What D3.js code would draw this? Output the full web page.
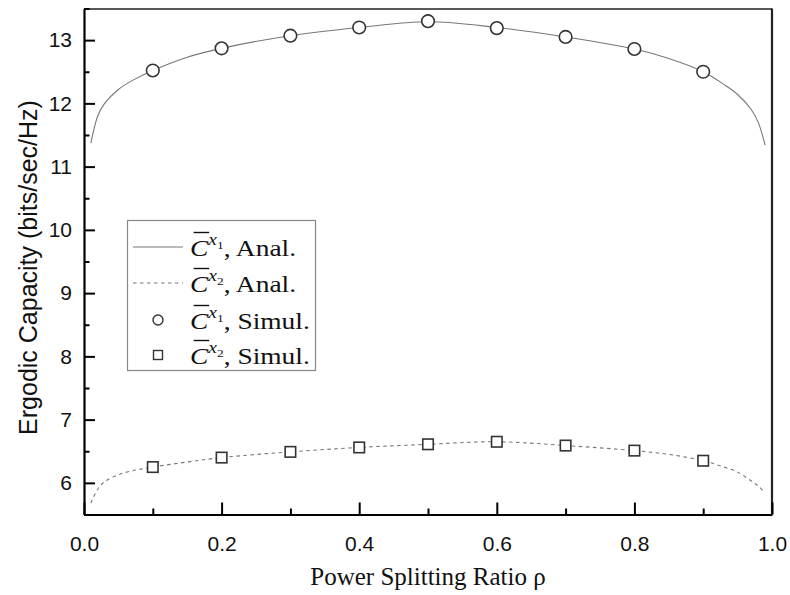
<!DOCTYPE html>
<html><head><meta charset="utf-8">
<script src="https://cdn.jsdelivr.net/npm/d3@7"></script>
<style>body{margin:0;background:#fff}svg{display:block}</style>
</head><body>
<svg id="c" width="790" height="595"></svg>
<script>
const rhoAnal = [0.01,0.02,0.03,0.05,0.07,0.1,0.15,0.2,0.3,0.4,0.5,0.6,0.7,0.8,0.85,0.9,0.93,0.95,0.97,0.98,0.99];
const c1Anal = [11.37,11.80,12.00,12.22,12.36,12.52,12.73,12.87,13.07,13.2,13.29,13.2,13.05,12.86,12.71,12.5,12.3,12.14,11.9,11.7,11.34];
const c2Anal = [5.68,5.90,6.02,6.13,6.19,6.25,6.33,6.40,6.49,6.56,6.61,6.65,6.59,6.51,6.45,6.35,6.25,6.17,6.03,5.95,5.84];
const rhoSim = [0.1,0.2,0.3,0.4,0.5,0.6,0.7,0.8,0.9];
const c1Sim = [12.52,12.87,13.07,13.2,13.3,13.19,13.05,12.86,12.5];
const c2Sim = [6.25,6.40,6.49,6.56,6.61,6.65,6.59,6.51,6.35];
const xTicks = [0,0.2,0.4,0.6,0.8,1.0];
const xMinor = [0.1,0.3,0.5,0.7,0.9];
const yTicks = [6,7,8,9,10,11,12,13];
const yMinor = [5.5,6.5,7.5,8.5,9.5,10.5,11.5,12.5,13.5];
const legendLabels = [", Anal.", ", Anal.", ", Simul.", ", Simul."];
const legendSubs = ["1","2","1","2"];

const L=84, R=772, T=8.5, B=514.5;
const svg = d3.select("#c");
const x = d3.scaleLinear().domain([0,1]).range([L,R]);
const y = d3.scaleLinear().domain([5.5,13.5]).range([B,T]);
const sans = "'Liberation Sans', Arial, sans-serif";
const serif = "'Liberation Serif', 'Times New Roman', serif";

// frame top/right
svg.append("line").attr("x1",L).attr("x2",R).attr("y1",T+0.5).attr("y2",T+0.5).attr("stroke","#222").attr("stroke-width",1.3);
svg.append("line").attr("x1",R).attr("x2",R).attr("y1",T).attr("y2",B).attr("stroke","#222").attr("stroke-width",2.2);

// axes
const xAxis = d3.axisBottom(x).tickValues(xTicks).tickFormat(d3.format(".1f")).tickSizeInner(-12).tickSizeOuter(0).tickPadding(22);
const gx = svg.append("g").attr("transform",`translate(0,${B})`).call(xAxis);
gx.selectAll("line").attr("stroke","#000").attr("stroke-width",2);
gx.select(".domain").attr("stroke","#000").attr("stroke-width",2.2);
gx.selectAll("text").attr("font-family",sans).attr("font-size",21).attr("fill","#111");
const gxm = svg.append("g").attr("transform",`translate(0,${B})`).call(d3.axisBottom(x).tickValues(xMinor).tickFormat("").tickSizeInner(-6).tickSizeOuter(0));
gxm.select(".domain").remove();
gxm.selectAll("line").attr("stroke","#000").attr("stroke-width",2);

const yAxis = d3.axisLeft(y).tickValues(yTicks).tickFormat(d3.format("d")).tickSizeInner(-11).tickSizeOuter(0).tickPadding(12);
const gy = svg.append("g").attr("transform",`translate(${L},0)`).call(yAxis);
gy.selectAll("line").attr("stroke","#000").attr("stroke-width",2);
gy.select(".domain").attr("stroke","#000").attr("stroke-width",2.2);
gy.selectAll("text").attr("font-family",sans).attr("font-size",21).attr("fill","#111");
const gym = svg.append("g").attr("transform",`translate(${L},0)`).call(d3.axisLeft(y).tickValues(yMinor).tickFormat("").tickSizeInner(-5.5).tickSizeOuter(0));
gym.select(".domain").remove();
gym.selectAll("line").attr("stroke","#000").attr("stroke-width",2);

// titles
svg.append("text").attr("transform",`translate(37,${(T+B)/2+6}) rotate(-90)`).attr("text-anchor","middle")
  .attr("font-family",sans).attr("font-size",25).attr("fill","#111").text("Ergodic Capacity (bits/sec/Hz)");
svg.append("text").attr("x",(L+R)/2).attr("y",585).attr("text-anchor","middle")
  .attr("font-family",serif).attr("font-size",25).attr("fill","#111").text("Power Splitting Ratio ρ");

// lines
const line = d3.line().curve(d3.curveCatmullRom.alpha(0.5)).x(d=>x(d[0])).y(d=>y(d[1]));
svg.append("path").datum(rhoAnal.map((r,i)=>[r,c1Anal[i]])).attr("d",line).attr("fill","none").attr("stroke","#777").attr("stroke-width",1.1);
svg.append("path").datum(rhoAnal.map((r,i)=>[r,c2Anal[i]])).attr("d",line).attr("fill","none").attr("stroke","#777").attr("stroke-width",1.1).attr("stroke-dasharray","3.5,3.5");

// markers
svg.append("g").selectAll("circle").data(rhoSim.map((r,i)=>[r,c1Sim[i]])).join("circle")
  .attr("cx",d=>x(d[0])).attr("cy",d=>y(d[1])).attr("r",6.3).attr("fill","#fff").attr("stroke","#333").attr("stroke-width",1.6);
const s=10.5;
svg.append("g").selectAll("rect").data(rhoSim.map((r,i)=>[r,c2Sim[i]])).join("rect")
  .attr("x",d=>x(d[0])-s/2).attr("y",d=>y(d[1])-s/2).attr("width",s).attr("height",s).attr("fill","#fff").attr("stroke","#333").attr("stroke-width",1.6);

// legend
const lg = svg.append("g");
lg.append("rect").attr("x",127.5).attr("y",220.5).attr("width",188).attr("height",150).attr("fill","#fff").attr("stroke","#888").attr("stroke-width",1.2);
const rowsY = [247,283,320,355];
lg.append("line").attr("x1",133).attr("x2",183).attr("y1",rowsY[0]).attr("y2",rowsY[0]).attr("stroke","#777").attr("stroke-width",1.1);
lg.append("line").attr("x1",133).attr("x2",183).attr("y1",rowsY[1]).attr("y2",rowsY[1]).attr("stroke","#777").attr("stroke-width",1.1).attr("stroke-dasharray","3.5,3.5");
lg.append("circle").attr("cx",158).attr("cy",rowsY[2]).attr("r",5).attr("fill","#fff").attr("stroke","#333").attr("stroke-width",1.4);
lg.append("rect").attr("x",153.5).attr("y",rowsY[3]-4.5).attr("width",9).attr("height",9).attr("fill","#fff").attr("stroke","#333").attr("stroke-width",1.4);
legendLabels.forEach((lab,i)=>{
  const by = rowsY[i]+8.5;
  const g = lg.append("g").attr("transform",`translate(190,${by}) scale(1.22,1)`);
  const t = g.append("text").attr("x",0).attr("y",0).attr("font-family",serif).attr("font-size",22.5).attr("fill","#111");
  const c = t.append("tspan").attr("font-style","italic").text("C");
  t.append("tspan").attr("font-style","italic").attr("font-size",16).attr("dy",-11).text("x");
  t.append("tspan").attr("font-size",11).attr("dy",4).text(legendSubs[i]);
  t.append("tspan").attr("dy",7).text(lab);
  let bb; try { bb = c.node().getBBox(); } catch(e) { bb = {x:0,width:15}; }
  g.append("line").attr("x1",bb.x+3).attr("x2",bb.x+bb.width+0.5).attr("y1",-23).attr("y2",-23).attr("stroke","#111").attr("stroke-width",1.4);
});
</script>
</body></html>
